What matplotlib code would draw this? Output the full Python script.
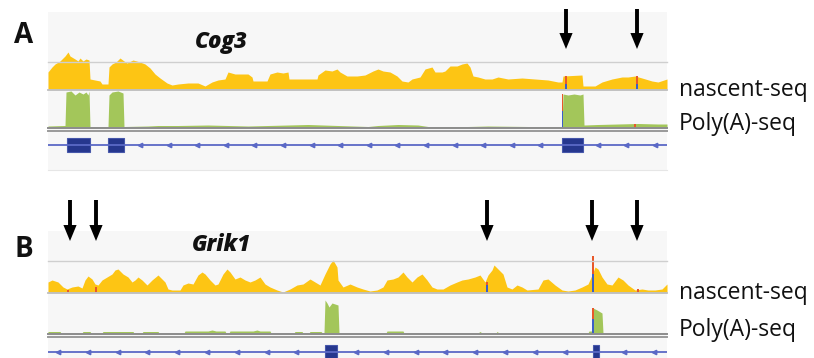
import numpy as np
import matplotlib
matplotlib.use("Agg")
import matplotlib.pyplot as plt
from matplotlib.patches import Rectangle
from matplotlib import transforms

# ---------------------------------------------------------------- data
# Positions are relative genomic offsets inside each browser window.
TRACK_SPAN = 619

# Cog3 window
cog3_nascent_pos = [0, 4, 7, 12, 17, 20, 22, 27, 30, 32, 35, 38, 41, 42, 47, 52, 54, 60,
                    61, 64, 68, 72, 76, 79, 85, 92, 97, 102, 107, 112, 119, 124, 130, 140,
                    150, 157, 164, 170, 177, 180, 187, 200, 204, 205, 219, 222, 229, 235,
                    240, 241, 249, 269, 270, 277, 284, 289, 292, 299, 309, 317, 325, 330,
                    335, 342, 349, 354, 360, 364, 372, 377, 384, 387, 394, 397, 402, 409,
                    414, 419, 422, 425, 430, 437, 444, 450, 460, 474, 487, 500, 510, 514,
                    515, 534, 535, 547, 554, 564, 574, 580, 587, 594, 604, 610, 619]
cog3_nascent_cov = [17, 22, 25, 28, 33, 37, 33, 30, 28, 31, 28, 30, 29, 10, 9, 8, 5, 5,
                    22, 25, 27, 31, 28, 26, 29, 27, 25, 21, 15, 11, 6, 4, 5, 6,
                    6, 3, 7, 9, 10, 17, 15, 15, 12, 8, 8, 15, 17, 16,
                    17, 10, 10, 10, 14, 19, 18, 20, 17, 13, 13, 14, 18, 20,
                    18, 17, 13, 8, 7, 10, 12, 20, 22, 17, 17, 18, 23, 23,
                    25, 26, 22, 13, 12, 10, 10, 12, 10, 11, 10, 9, 7, 7,
                    13, 14, 3, 3, 7, 10, 12, 12, 13, 11, 8, 7, 10]

cog3_polya_pos = [0, 17, 18, 23, 27, 31, 35, 38, 40, 41, 42, 60, 61, 64, 70, 75, 76, 100,
                  110, 130, 160, 180, 200, 240, 260, 290, 320, 330, 350, 370, 380, 420,
                  440, 480, 514, 515, 520, 526, 532, 535, 536, 550, 570, 590, 610, 619]
cog3_polya_cov = [1, 1.5, 35, 36, 32, 35, 33, 35, 32, 36, 0.5, 0.5, 32, 35, 36, 34, 0.5, 1,
                  1.5, 1.5, 2, 1.5, 1, 2, 2.5, 1.5, 0.5, 1.5, 2.5, 2, 0.5, 0.5,
                  1, 0.5, 0.5, 33, 32, 33, 32, 33, 2, 2.5, 3, 3.5, 3, 3]

cog3_exons = [(19, 42), (60, 76), (514, 535)]

# Grik1 window
grik1_nascent_pos = [0, 4, 10, 15, 19, 24, 30, 34, 37, 40, 44, 47, 50, 54, 59, 64, 67, 70,
                     75, 80, 84, 87, 90, 94, 99, 104, 110, 114, 117, 120, 124, 132, 135,
                     140, 145, 150, 154, 157, 162, 167, 170, 175, 179, 182, 187, 192, 197,
                     202, 207, 212, 217, 222, 229, 235, 242, 249, 255, 262, 267, 272, 277,
                     282, 285, 289, 290, 295, 302, 309, 315, 322, 329, 335, 339, 345, 350,
                     355, 359, 364, 369, 374, 379, 384, 389, 395, 402, 409, 414, 420, 427,
                     432, 437, 440, 444, 446, 450, 455, 459, 464, 469, 474, 479, 490, 495,
                     500, 507, 514, 520, 527, 534, 540, 544, 547, 550, 554, 559, 564, 570,
                     575, 580, 587, 594, 600, 607, 614, 619]
grik1_nascent_cov = [10, 12, 10, 5, 3, 5, 6, 4, 12, 16, 13, 8, 7, 12, 15, 18, 22, 23,
                     18, 15, 10, 12, 15, 12, 7, 12, 17, 13, 10, 3, 2, 2, 7,
                     9, 8, 17, 20, 18, 12, 7, 8, 18, 23, 20, 13, 15, 12,
                     10, 12, 15, 8, 5, 2, 0, 3, 7, 8, 13, 10, 7, 18,
                     28, 32, 25, 12, 5, 8, 5, 3, 1, 2, 5, 12, 13, 15,
                     20, 15, 10, 15, 18, 12, 5, 3, 3, 7, 10, 12, 13, 15,
                     17, 10, 17, 22, 27, 23, 18, 5, 3, 7, 5, 2, 3, 12,
                     13, 7, 2, 1, 2, 5, 8, 17, 25, 23, 15, 8, 7, 15,
                     12, 7, 2, 3, 2, 2, 3, 8]

grik1_polya_pos = [0, 12, 13, 34, 35, 42, 43, 54, 55, 85, 86, 94, 95, 110, 111, 136, 137,
                   160, 164, 168, 177, 178, 181, 182, 205, 209, 212, 222, 223, 246, 247,
                   254, 255, 261, 262, 273, 274, 276, 277, 279, 281, 284, 287, 290, 291,
                   338, 339, 355, 356, 430, 432, 434, 448, 449, 451, 540, 541, 544, 545,
                   549, 554, 555, 619]
grik1_polya_cov = [1.5, 1.5, 0, 0, 1.5, 1.5, 0, 0, 1.5, 1.5, 0, 0, 1.5, 1.5, 0, 0, 2,
                   2, 3, 2, 2, 0, 0, 2, 2, 3, 2, 2, 0, 0, 1.5,
                   1.5, 0, 0, 1.5, 1.5, 0.5, 0.5, 33, 30, 26, 30, 29, 28, 0,
                   0, 2, 2, 0, 0, 1.5, 0, 0, 1.5, 0, 0, 2, 2, 25,
                   23, 20, 0, 0]

grik1_exons = [(277, 289), (545, 551)]

# Mismatch columns: (position, total height, fraction of the upper allele)
cog3_nascent_snv = [(518, 13, 0.6), (589, 13, 0.6)]
cog3_polya_snv = [(514.5, 33, 0.5), (587, 3, 1.0)]
grik1_nascent_snv = [(20, 2, 1.0), (48, 5, 1.0), (439, 10, 0.3), (545, 36, 0.5), (590, 3, 1.0)]
grik1_polya_snv = [(545, 25, 0.45)]

cog3_sites = [518, 589]
grik1_sites = [22, 48, 439, 544, 589]

# ---------------------------------------------------------------- style
W, H = 814, 358
NASCENT = "#FDC514"
POLYA = "#A3C65A"
EXON = "#26378E"
INTRON = "#5B69C6"
ALLELE_TOP = "#E8582A"
ALLELE_LOW = "#3C5FC6"
PANEL_BG = "#F7F7F7"
TEXT = "#111111"
FONT = ["Open Sans", "DejaVu Sans"]
X0 = 48

fig = plt.figure(figsize=(W / 100, H / 100), dpi=100)
fig.patch.set_facecolor("white")


def px_axes(x, y, w, h):
    ax = fig.add_axes([x / W, 1 - (y + h) / H, w / W, h / H])
    ax.set_xlim(0, TRACK_SPAN)
    ax.axis("off")
    ax.patch.set_alpha(0)
    return ax


def hline_px(y, color, lw, x=X0, w=TRACK_SPAN):
    fig.add_artist(plt.Line2D([x / W, (x + w) / W], [1 - y / H, 1 - y / H],
                              color=color, lw=lw, transform=fig.transFigure))


def snv_bars(ax, snvs):
    for pos, h, frac in snvs:
        ax.bar(pos, h * (1 - frac), width=1.8, color=ALLELE_LOW, linewidth=0)
        ax.bar(pos, h * frac, bottom=h * (1 - frac), width=1.8, color=ALLELE_TOP, linewidth=0)


def gene_track(ax, exons, tick_start, tick_step):
    ax.set_ylim(-10, 10)
    ax.plot([0, TRACK_SPAN], [0, 0], color=INTRON, lw=1.3, solid_capstyle="butt")
    ticks = np.arange(tick_start, TRACK_SPAN, tick_step)
    ticks = [t for t in ticks if not any(s - 3 <= t <= e + 3 for s, e in exons)]
    ax.plot(ticks, np.zeros(len(ticks)), ls="none", marker="<", ms=3.2,
            color=INTRON, mec=INTRON)
    for s, e in exons:
        ax.add_patch(Rectangle((s, -7), e - s, 14, facecolor=EXON,
                               edgecolor="#4657AA", lw=0.8))


def panel(top, bg_bottom, nasc_top, base, data_line, poly_base, gene_mid,
          npos, ncov, ppos, pcov, exons, nsnv, psnv, sites, letter, gene,
          title_y, letter_y, arrow_top, arrow_tip, tick_start, tick_step):
    fig.add_artist(Rectangle((X0 / W, 1 - bg_bottom / H), TRACK_SPAN / W,
                             (bg_bottom - top) / H, transform=fig.transFigure,
                             facecolor=PANEL_BG, edgecolor="none", zorder=0))
    hline_px(bg_bottom, "#E6E6E6", 0.8)
    hline_px(data_line, "#CFCFCF", 1.0)

    # nascent-seq coverage
    axn = px_axes(X0, nasc_top, TRACK_SPAN, base - nasc_top)
    axn.set_ylim(0, base - nasc_top)
    axn.fill_between(npos, 0, ncov, color=NASCENT, lw=0)
    snv_bars(axn, nsnv)
    hline_px(base + 0.6, "#BDBDBD", 1.3)

    # Poly(A)-seq coverage
    axp = px_axes(X0, base + 1.5, TRACK_SPAN, poly_base - base - 1.5)
    axp.set_ylim(0, poly_base - base - 1.5)
    axp.fill_between(ppos, 0, pcov, color=POLYA, lw=0)
    snv_bars(axp, psnv)
    hline_px(poly_base + 0.6, "#8C8C8C", 1.4)
    hline_px(poly_base + 4.4, "#9A9A9A", 1.4)

    # gene model
    axg = px_axes(X0, gene_mid - 10, TRACK_SPAN, 20)
    gene_track(axg, exons, tick_start, tick_step)

    # arrows marking the sites
    trans = transforms.blended_transform_factory(axn.transData, fig.transFigure)
    for s in sites:
        axn.annotate("", xy=(s, 1 - arrow_tip / H), xytext=(s, 1 - arrow_top / H),
                     xycoords=trans, textcoords=trans, annotation_clip=False,
                     arrowprops=dict(width=2.8, headwidth=9.5, headlength=11.5,
                                     shrink=0, color="black", lw=0))

    fig.text(24 / W, 1 - letter_y / H, letter, fontsize=20, fontweight="bold",
             ha="center", va="baseline", color=TEXT, family=FONT)
    fig.text(221 / W, 1 - title_y / H, gene, fontsize=16, fontweight="heavy",
             style="italic", ha="center", va="baseline", color=TEXT, family=FONT)
    fig.text(679 / W, 1 - (base + 7) / H, "nascent-seq", fontsize=16.5, ha="left",
             va="baseline", color=TEXT, family=FONT)
    fig.text(679 / W, 1 - (poly_base + 2.5) / H, "Poly(A)-seq", fontsize=16.5, ha="left",
             va="baseline", color=TEXT, family=FONT)


panel(top=12, bg_bottom=170, nasc_top=40, base=89, data_line=62, poly_base=127,
      gene_mid=145, npos=cog3_nascent_pos, ncov=cog3_nascent_cov,
      ppos=cog3_polya_pos, pcov=cog3_polya_cov, exons=cog3_exons,
      nsnv=cog3_nascent_snv, psnv=cog3_polya_snv, sites=cog3_sites,
      letter="A", gene="Cog3", title_y=48, letter_y=43, arrow_top=9, arrow_tip=49,
      tick_start=92, tick_step=28.6)

panel(top=231, bg_bottom=359, nasc_top=252, base=292, data_line=261, poly_base=333,
      gene_mid=352, npos=grik1_nascent_pos, ncov=grik1_nascent_cov,
      ppos=grik1_polya_pos, pcov=grik1_polya_cov, exons=grik1_exons,
      nsnv=grik1_nascent_snv, psnv=grik1_polya_snv, sites=grik1_sites,
      letter="B", gene="Grik1", title_y=251, letter_y=257, arrow_top=200, arrow_tip=241,
      tick_start=10, tick_step=29.8)

fig.savefig("out.png", dpi=100)
